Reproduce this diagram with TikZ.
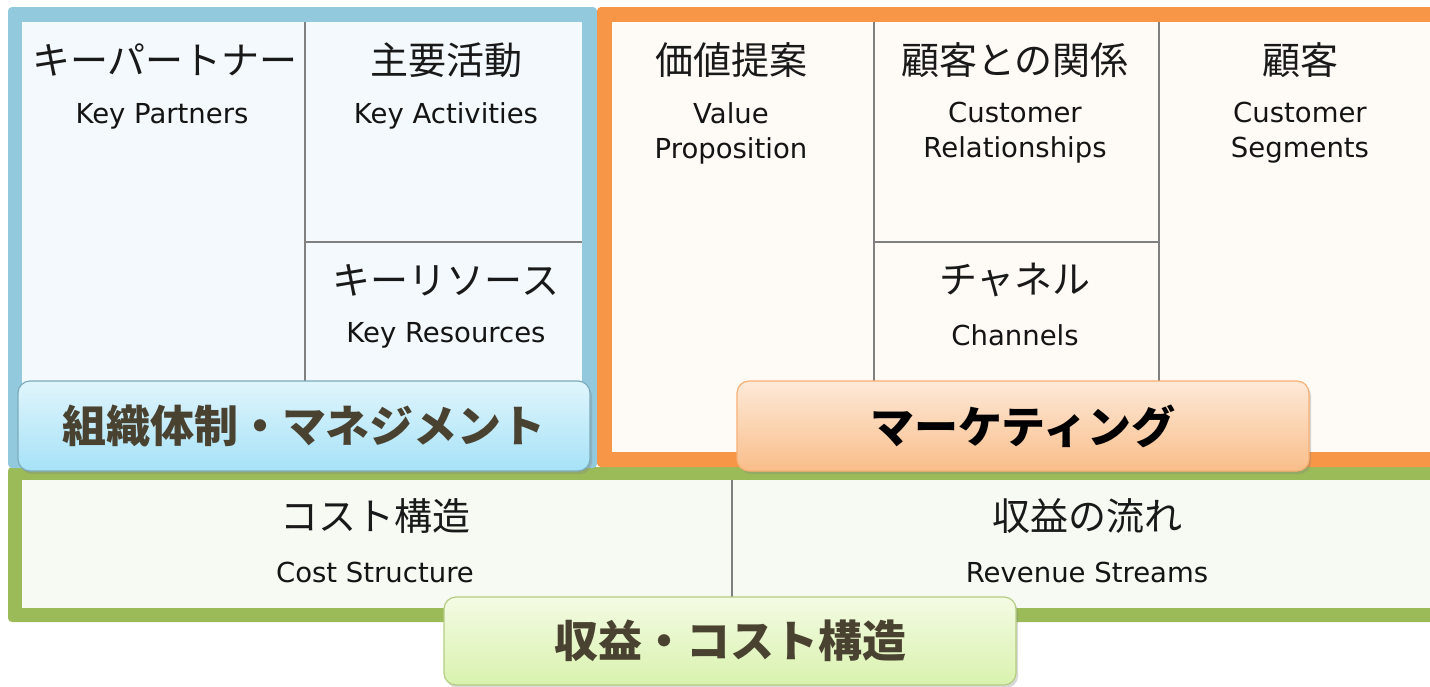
\documentclass[tikz,border=0pt]{standalone}
\usepackage{fontspec}
\setmainfont{DejaVu Sans}
\newfontfamily\jpfont{Noto Sans CJK JP}
\usetikzlibrary{positioning, shadows}
\definecolor{frameblue}{RGB}{146,201,220}
\definecolor{frameorange}{RGB}{247,150,70}
\definecolor{framegreen}{RGB}{155,187,89}
\definecolor{fillblue}{RGB}{243,249,252}
\definecolor{fillorange}{RGB}{254,250,246}
\definecolor{fillgreen}{RGB}{247,250,243}
\definecolor{gridgray}{RGB}{128,128,128}
\definecolor{tagbrown}{RGB}{74,66,48}
\definecolor{bluetop}{RGB}{224,245,252}
\definecolor{bluebot}{RGB}{166,226,247}
\definecolor{orangetop}{RGB}{253,233,216}
\definecolor{orangebot}{RGB}{249,190,138}
\definecolor{greentop}{RGB}{244,251,228}
\definecolor{greenbot}{RGB}{217,242,174}

\begin{document}
\begin{tikzpicture}[
  x=1pt, y=-1pt,
  jp/.style={font=\jpfont\fontsize{38}{40}\selectfont, text=black!90, inner sep=0pt},
  en/.style={font=\fontsize{27.5}{35}\selectfont, text=black!92, align=center, inner sep=0pt},
  divider/.style={draw=gridgray, line width=2pt},
  tag/.style={rounded corners=12pt, line width=1.2pt, inner sep=0pt,
              minimum width=572pt, minimum height=90pt,
              font=\jpfont\bfseries\fontsize{44}{46}\selectfont,
              drop shadow={shadow xshift=2pt, shadow yshift=-3pt, opacity=0.3}},
  bluetag/.style={tag, draw=frameblue!85!black, top color=bluetop, bottom color=bluebot, text=tagbrown},
  orangetag/.style={tag, draw=frameorange!75, top color=orangetop, bottom color=orangebot, text=black},
  greentag/.style={tag, draw=framegreen!75, top color=greentop, bottom color=greenbot, text=tagbrown}
]
\useasboundingbox (0,0) rectangle (1430,686);
\clip (0,0) rectangle (1430,686);

% ===== Frames =====
\fill[framegreen, rounded corners=4pt] (8,467) rectangle (1450,622);
\fill[fillgreen] (22,480) rectangle (1450,608);
\fill[frameblue, rounded corners=4pt] (8,7) rectangle (597,468);
\fill[fillblue] (22,22) rectangle (582,455);
\fill[frameorange, rounded corners=4pt] (597,7) rectangle (1450,467);
\fill[fillorange] (612,22) rectangle (1450,452);

% ===== Grid lines =====
\draw[divider] (305,22) -- (305,381);
\draw[divider] (305,242) -- (582,242);
\draw[divider] (874,22) -- (874,381);
\draw[divider] (1159,22) -- (1159,381);
\draw[divider] (874,242) -- (1159,242);
\draw[divider] (732,480) -- (732,597);

% ===== Cells =====
\node[jp] (kpJ) at (165,60) {キーパートナー};
\node[en] (kpE) at (162,116) {Key Partners};
\node[jp] (kaJ) at (446,60) {主要活動};
\node[en] (kaE) at (446,116) {Key Activities};
\node[jp] (krJ) at (446,280) {キーリソース};
\node[en] (krE) at (446,335) {Key Resources};
\node[jp] (vpJ) at (731,60) {価値提案};
\node[en] (vpE) at (731,133) {Value\\Proposition};
\node[jp] (crJ) at (1015,60) {顧客との関係};
\node[en] (crE) at (1015,133) {Customer\\Relationships};
\node[jp] (chJ) at (1015,280) {チャネル};
\node[en] (chE) at (1015,335) {Channels};
\node[jp] (csJ) at (1300,60) {顧客};
\node[en] (csE) at (1300,133) {Customer\\Segments};
\node[jp] (coJ) at (375,516) {コスト構造};
\node[en] (coE) at (375,572) {Cost Structure};
\node[jp] (rsJ) at (1087,516) {収益の流れ};
\node[en] (rsE) at (1087,572) {Revenue Streams};

% ===== Group tags =====
\node[bluetag] (mgmt) at (304,426) {組織体制・マネジメント};
\node[orangetag] (mkt) at (1023,426) {マーケティング};
\node[greentag, minimum height=88pt] (money) at (730,641) {収益・コスト構造};

\end{tikzpicture}
\end{document}
